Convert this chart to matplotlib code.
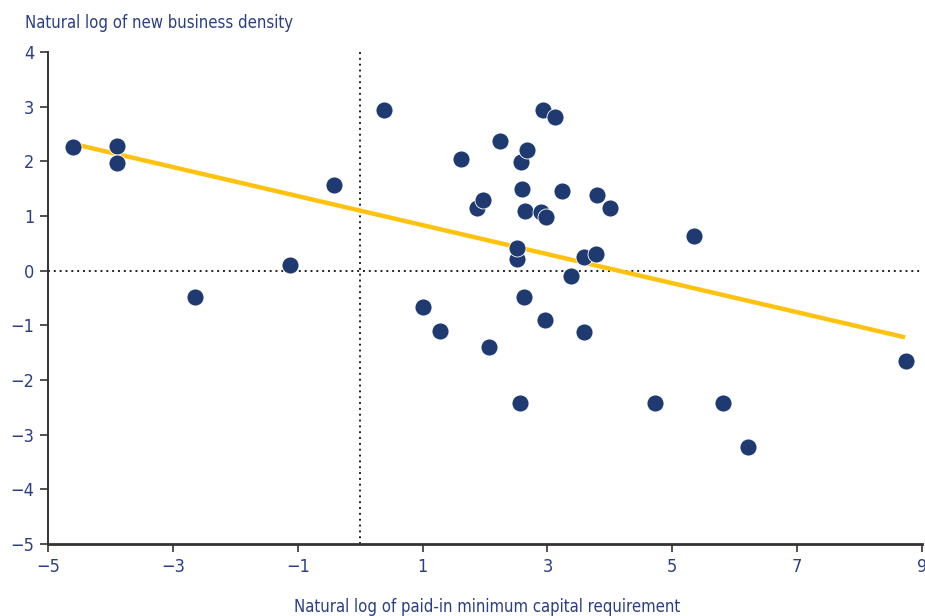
import matplotlib.pyplot as plt

# Dados (log do capital mínimo vs log da densidade de novas empresas)
capital_log = [-4.60, -3.89, -3.89, -2.65, -1.12, -0.42, 0.38, 1.01, 1.28, 1.62,
               1.87, 1.96, 2.06, 2.24, 2.51, 2.52, 2.56, 2.57, 2.60, 2.62,
               2.64, 2.68, 2.90, 2.97, 2.96, 2.93, 3.12, 3.24, 3.37, 3.58,
               3.59, 3.78, 3.79, 4.00, 4.72, 5.34, 5.81, 6.21, 8.74]
density_log = [2.26, 2.28, 1.97, -0.48, 0.10, 1.57, 2.94, -0.66, -1.11, 2.05,
               1.14, 1.29, -1.39, 2.38, 0.22, 0.41, -2.42, 1.99, 1.50, -0.48,
               1.09, 2.20, 1.07, 0.99, -0.90, 2.93, 2.81, 1.46, -0.09, -1.12,
               0.25, 0.30, 1.38, 1.14, -2.42, 0.64, -2.42, -3.22, -1.65]

# Linha de tendência (extremos)
fit_x = [-4.60, 8.73]
fit_y = [2.32, -1.22]

x_ticks = [-5, -3, -1, 1, 3, 5, 7, 9]
y_ticks = [-5, -4, -3, -2, -1, 0, 1, 2, 3, 4]

NAVY = '#1f3a70'
TEXT = '#2b3f85'
YELLOW = '#ffc20e'

plt.rcParams['font.family'] = ['DejaVu Sans']
plt.rcParams['font.stretch'] = 'condensed'

fig = plt.figure(figsize=(9.25, 6.16), dpi=100)
ax = fig.add_axes([0.0519, 0.1169, 0.9449, 0.7987])

ax.axhline(0, color='#222222', linestyle=(0, (1, 2)), linewidth=1.4, zorder=1)
ax.axvline(0, color='#222222', linestyle=(0, (1, 2)), linewidth=1.4, zorder=1)

ax.plot(fit_x, fit_y, color=YELLOW, linewidth=3.2, solid_capstyle='butt', zorder=2)
ax.scatter(capital_log, density_log, s=150, color=NAVY, edgecolors='white',
           linewidths=0.6, zorder=3)

ax.set_xlim(-5, 9)
ax.set_ylim(-5, 4)
ax.set_xticks(x_ticks)
ax.set_yticks(y_ticks)

for side in ['top', 'right']:
    ax.spines[side].set_visible(False)
ax.spines['left'].set_color('#333333')
ax.spines['left'].set_linewidth(1.4)
ax.spines['bottom'].set_color('#333333')
ax.spines['bottom'].set_linewidth(2)
ax.tick_params(direction='out', length=6, width=1.2, color='#333333',
               labelcolor=TEXT, labelsize=13, pad=4)

fig.text(0.027, 0.963, 'Natural log of new business density', color=TEXT,
         fontsize=12, ha='left', va='center')
fig.text(0.527, 0.015, 'Natural log of paid-in minimum capital requirement',
         color=TEXT, fontsize=12, ha='center', va='center')

fig.savefig('out.png', dpi=100)
